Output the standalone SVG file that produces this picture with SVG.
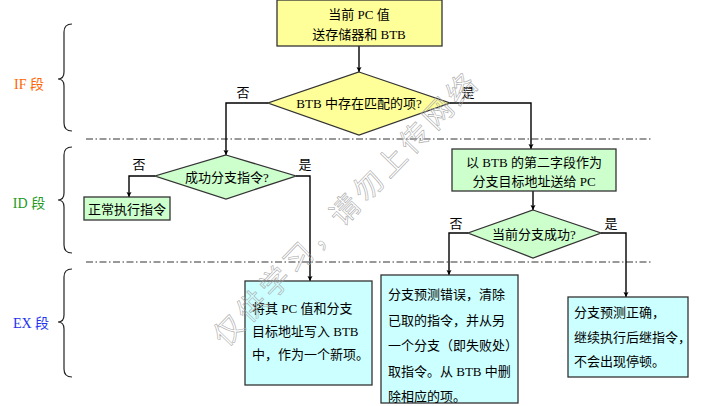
<svg xmlns="http://www.w3.org/2000/svg" width="708" height="406" viewBox="0 0 708 406">
<defs>
<marker id="arr" viewBox="0 0 10 10" refX="10" refY="5" markerWidth="5" markerHeight="7" markerUnits="userSpaceOnUse" orient="auto">
<path d="M0,0 L10,5 L0,10 L2,5 Z" fill="#000"/>
</marker>
<style>
text{font-family:"Liberation Serif","Noto Sans CJK SC",serif;font-size:13px;fill:#000}
.c{text-anchor:middle;dominant-baseline:central}
.l{dominant-baseline:central}
.box{stroke:#333;stroke-width:1.3}
.y{fill:#ffff99}
.g{fill:#ccffcc}
.b{fill:#ccffff}
.conn path{fill:none;stroke:#000;stroke-width:1.4}
.sep{stroke:#333;stroke-width:1;stroke-dasharray:7,2.5,1.5,2.5;fill:none}
.brace{fill:none;stroke:#222;stroke-width:1.2}
.wm{font-size:29px;fill:none;stroke:#aaa;stroke-width:0.6}
.stage{font-size:14px}
</style>
</defs>
<rect width="708" height="406" fill="#fff"/>

<g id="stages">
<path class="sep" d="M86,139 H653"/>
<path class="sep" d="M86,262 H653"/>
<path class="brace" d="M72,24 Q64,24 64,32 L64,72 Q64,79 58,79 Q64,79 64,86 L64,123 Q64,131 72,131"/>
<path class="brace" d="M72,147 Q64,147 64,155 L64,193 Q64,200 58,200 Q64,200 64,207 L64,245 Q64,253 72,253"/>
<path class="brace" d="M72,269 Q64,269 64,277 L64,315 Q64,322 58,322 Q64,322 64,329 L64,369 Q64,377 72,377"/>
<text class="c stage" x="29" y="84" style="fill:#ff6600">IF 段</text>
<text class="c stage" x="29" y="203" style="fill:#229922">ID 段</text>
<text class="c stage" x="31" y="323" style="fill:#2233ee">EX 段</text>
</g>

<g class="conn">
<path d="M359,46 V72" marker-end="url(#arr)"/>
<path d="M268,103 H226 V155" marker-end="url(#arr)"/>
<path d="M450,103 H531 V149" marker-end="url(#arr)"/>
<path d="M155,176 H129 V197" marker-end="url(#arr)"/>
<path d="M296,176 H310 V281" marker-end="url(#arr)"/>
<path d="M533,191 V210" marker-end="url(#arr)"/>
<path d="M468,233 H449 V275" marker-end="url(#arr)"/>
<path d="M601,233 H626 V297" marker-end="url(#arr)"/>
</g>

<g id="start">
<rect class="box y" x="277" y="0" width="165" height="46"/>
<text class="c" x="359" y="14">当前 PC 值</text>
<text class="c" x="359" y="34">送存储器和 BTB</text>
</g>

<g id="d_btb">
<polygon class="box y" points="359,72 450,103 359,135 268,103"/>
<text class="c" x="359" y="103">BTB 中存在匹配的项?</text>
<text class="c" x="243" y="92">否</text>
<text class="c" x="468" y="92">是</text>
</g>

<g id="d_branch">
<polygon class="box g" points="226,155 296,176 226,199 155,176"/>
<text class="c" x="227" y="177">成功分支指令?</text>
<text class="c" x="139" y="164">否</text>
<text class="c" x="305" y="164">是</text>
</g>

<g id="normal">
<rect class="box g" x="84" y="197" width="86" height="23"/>
<text class="c" x="127" y="209">正常执行指令</text>
</g>

<g id="newentry">
<rect class="box b" x="245" y="281" width="127" height="104"/>
<text class="l" x="252" y="308">将其 PC 值和分支</text>
<text class="l" x="252" y="331">目标地址写入 BTB</text>
<text class="l" x="252" y="354">中，作为一个新项。</text>
</g>

<g id="sendpc">
<rect class="box g" x="452" y="149" width="164" height="42"/>
<text class="c" x="534" y="162">以 BTB 的第二字段作为</text>
<text class="c" x="534" y="181">分支目标地址送给 PC</text>
</g>

<g id="d_success">
<polygon class="box g" points="533,210 601,233 533,258 468,233"/>
<text class="c" x="534" y="234">当前分支成功?</text>
<text class="c" x="456" y="223">否</text>
<text class="c" x="611" y="223">是</text>
</g>

<g id="mispredict">
<rect class="box b" x="381" y="275" width="137" height="128"/>
<text class="l" x="388" y="294">分支预测错误，清除</text>
<text class="l" x="388" y="320">已取的指令，并从另</text>
<text class="l" x="388" y="345">一个分支（即失败处）</text>
<text class="l" x="388" y="371">取指令。从 BTB 中删</text>
<text class="l" x="388" y="396">除相应的项。</text>
</g>

<g id="correct">
<rect class="box b" x="568" y="297" width="120" height="80"/>
<text class="l" x="574" y="312">分支预测正确，</text>
<text class="l" x="574" y="337">继续执行后继指令，</text>
<text class="l" x="574" y="361">不会出现停顿。</text>
</g>

<text class="wm" transform="translate(226,348) rotate(-46)" style="letter-spacing:4.5px">仅供学习，请勿上传网络</text>
</svg>
